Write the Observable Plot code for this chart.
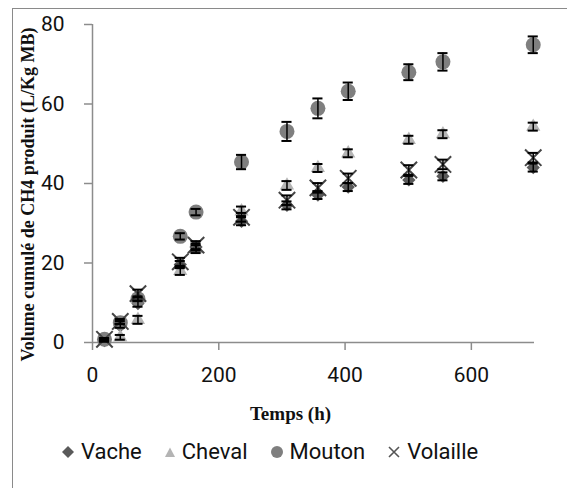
<!DOCTYPE html>
<html><head><meta charset="utf-8">
<script src="https://cdn.jsdelivr.net/npm/d3@7"></script>
<script src="https://cdn.jsdelivr.net/npm/@observablehq/plot@0.6"></script>
<style>
body{margin:0;background:#fff;}
#wrap{position:relative;width:567px;height:488px;overflow:hidden;background:#fff;}
#frame{position:absolute;left:12px;top:8px;width:700px;height:700px;border-left:1.5px solid #8a8a8a;border-top:1.5px solid #8a8a8a;}
#chart{position:absolute;left:0;top:0;}
#legend{position:absolute;top:439px;left:61px;display:flex;align-items:center;font-family:Roboto,sans-serif;font-size:22px;color:#111;white-space:nowrap;}
#legend .it{display:flex;align-items:center;margin-right:22px;}
#legend svg{margin-right:6px;}
</style></head>
<body>
<div id="wrap"><div id="frame"></div><div id="chart"></div><div id="legend"></div></div>
<script>
const time = [19, 44, 72, 139, 164, 236, 308, 357, 405, 501, 555, 698];
const vache = [0.5, 4.2, 9.8, 19.6, 24.0, 30.5, 34.5, 37.1, 39.1, 40.9, 41.8, 44.0];
const cheval = [0.6, 1.3, 5.7, 18.0, 23.5, 33.0, 39.5, 43.9, 47.6, 51.0, 52.4, 54.3];
const mouton = [0.8, 5.0, 11.0, 26.7, 32.8, 45.4, 53.1, 58.9, 63.2, 68.0, 70.6, 74.9];
const volaille = [0.8, 5.3, 12.3, 20.3, 24.5, 31.5, 35.8, 38.9, 41.3, 43.4, 44.8, 46.5];
const vacheErr = [0.3, 0.5, 0.8, 0.9, 0.9, 1.0, 1.0, 1.0, 1.0, 1.0, 1.0, 1.0];
const chevalErr = [0.3, 0.6, 1.0, 1.0, 1.0, 1.2, 1.1, 1.0, 1.0, 1.0, 1.0, 1.0];
const moutonErr = [0.3, 0.4, 0.6, 0.8, 0.8, 1.8, 2.4, 2.5, 2.2, 2.0, 2.2, 2.1];
const volailleErr = [0.3, 0.6, 1.0, 1.0, 1.0, 1.1, 1.2, 1.2, 1.2, 1.2, 1.2, 1.2];
const seriesNames = ["Vache", "Cheval", "Mouton", "Volaille"];
const xTicks = [0, 200, 400, 600];
const yTicks = [0, 20, 40, 60, 80];
const xLabel = "Temps (h)";
const yLabel = "Volume cumulé de CH4 produit (L/Kg MB)";

const values = {Vache: vache, Cheval: cheval, Mouton: mouton, Volaille: volaille};
const errs = {Vache: vacheErr, Cheval: chevalErr, Mouton: moutonErr, Volaille: volailleErr};
const rows = seriesNames.flatMap(s => time.map((t, i) => ({s, t, v: values[s][i], e: errs[s][i]})));
const of = s => rows.filter(d => d.s === s);
const cap = 8;
const axisGray = "#8c8c8c";

const chart = Plot.plot({
  width: 567, height: 430,
  marginLeft: 92, marginRight: 33, marginTop: 24, marginBottom: 88,
  x: {domain: [0, 700]},
  y: {domain: [0, 80]},
  style: {fontFamily: "Roboto, sans-serif", background: "transparent", overflow: "visible"},
  marks: [
    Plot.ruleX([0], {y1: 0, y2: 80, stroke: axisGray, strokeWidth: 1.5}),
    Plot.ruleY([0], {x1: 0, x2: 700, stroke: axisGray, strokeWidth: 1.5}),
    Plot.axisY({ticks: yTicks, tickSize: 8, tickPadding: 20, fontSize: 21, stroke: axisGray, strokeWidth: 1.5, fill: "#111", label: null}),
    Plot.axisX({ticks: xTicks, tickSize: 8, tickPadding: 17, fontSize: 21, stroke: axisGray, strokeWidth: 1.5, fill: "#111", label: null}),
    Plot.dot(of("Vache"), {x: "t", y: "v", symbol: "diamond2", r: 6, fill: "#5a5a5a", stroke: "none"}),
    Plot.dot(of("Cheval"), {x: "t", y: "v", symbol: "triangle", r: 5.3, fill: "#b4b4b4", stroke: "none"}),
    Plot.dot(of("Mouton"), {x: "t", y: "v", symbol: "circle", r: 7.5, fill: "#7f7f7f", stroke: "none"}),
    Plot.dot(of("Volaille"), {x: "t", y: "v", symbol: "times", r: 7.5, stroke: "#454545", strokeWidth: 2}),
    // error bars
    Plot.ruleX(rows, {x: "t", y1: d => d.v - d.e, y2: d => d.v + d.e, stroke: "#000", strokeWidth: 1.5,
      strokeDasharray: d => d.s === "Vache" ? "1.5,1.5" : null}),
    Plot.ruleY(rows, {y: d => d.v + d.e, x1: d => d.t - cap, x2: d => d.t + cap, stroke: "#000", strokeWidth: 2,
      strokeDasharray: d => d.s === "Vache" ? "1.5,1.5" : null}),
    Plot.ruleY(rows, {y: d => d.v - d.e, x1: d => d.t - cap, x2: d => d.t + cap, stroke: "#000", strokeWidth: 2,
      strokeDasharray: d => d.s === "Vache" ? "1.5,1.5" : null}),
    Plot.text([yLabel], {frameAnchor: "left", textAnchor: "middle", lineAnchor: "middle", dx: -64, dy: 11, rotate: -90, fontFamily: "Liberation Serif, serif", fontWeight: "bold", fontSize: 18, fill: "#111"}),
    Plot.text([xLabel], {frameAnchor: "bottom", textAnchor: "middle", lineAnchor: "middle", dx: -23, dy: 71, fontFamily: "Liberation Serif, serif", fontWeight: "bold", fontSize: 19, fill: "#111"})
  ]
});
document.getElementById("chart").appendChild(chart);

const sym = {
  Vache: '<svg width="14" height="14"><path d="M7 1 L13 7 L7 13 L1 7Z" fill="#5a5a5a"/></svg>',
  Cheval: '<svg width="12" height="12"><path d="M6 1.5 L11 11 L1 11Z" fill="#b4b4b4"/></svg>',
  Mouton: '<svg width="14" height="14"><circle cx="7" cy="7" r="6" fill="#7f7f7f"/></svg>',
  Volaille: '<svg width="14" height="14"><path d="M2 2 L12 12 M12 2 L2 12" stroke="#555" stroke-width="1.6"/></svg>'
};
const leg = document.getElementById("legend");
seriesNames.forEach(s => {
  const it = document.createElement("div");
  it.className = "it";
  it.innerHTML = sym[s] + "<span>" + s + "</span>";
  leg.appendChild(it);
});
</script>
</body></html>
